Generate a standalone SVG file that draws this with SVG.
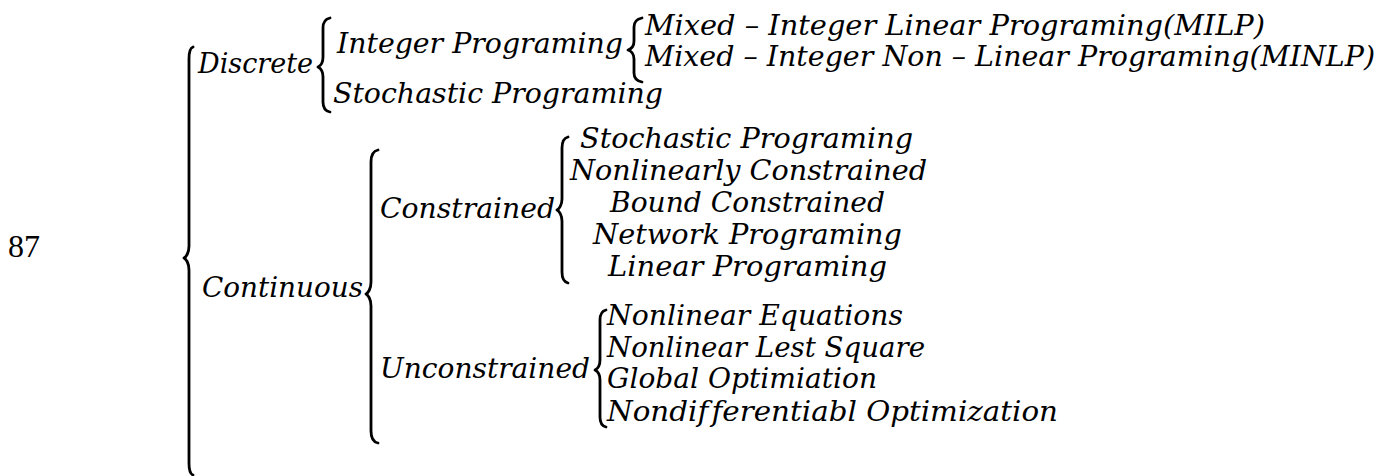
<svg xmlns="http://www.w3.org/2000/svg" width="1400" height="476" viewBox="0 0 1400 476">
<style>
.t{font-family:"DejaVu Serif","Liberation Serif",serif;font-style:italic;font-size:27px;fill:#000;font-variant-ligatures:none}
.n{font-family:"Liberation Serif","Times New Roman",serif;font-size:32px;fill:#000}
.b{fill:none;stroke:#000;stroke-width:2.8;stroke-linecap:round;stroke-linejoin:round}
</style>
<rect width="1400" height="476" fill="#fff"/>
<g id="connectors">
<path class="b" d="M193,47 C190,48 189,53 189,59 L189,246 C189,253 186,257 184,258 C186,259 189,263 189,270 L189,463 C189,469 190,474 193,475"/>
<path class="b" d="M330,18 C325,19 323,23 323,28 L323,57 C323,63 320,66 318,67 C320,68 323,71 323,77 L323,102 C323,107 325,111 330,112"/>
<path class="b" d="M642,18 C637,19 634,22 634,27 L634,41 C634,46 631,49 628,50 C631,51 634,54 634,59 L634,73 C634,78 637,81 642,82"/>
<path class="b" d="M378,150 C373,151 371,156 371,162 L371,282 C371,289 368,293 366,294 C368,295 371,299 371,306 L371,431 C371,437 373,442 378,443"/>
<path class="b" d="M568,137 C564,138 562,142 562,148 L562,199 C562,205 559,209 557,210 C559,211 562,215 562,221 L562,272 C562,278 564,282 568,283"/>
<path class="b" d="M606,310 C602,311 600,315 600,320 L600,360 C600,366 597,369 595,370 C597,371 600,374 600,380 L600,417 C600,422 602,426 606,427"/>
</g>
<g id="page-number"><text class="n" x="8" y="257">87</text></g>
<g id="discrete"><text class="t" x="198" y="73" textLength="115" lengthAdjust="spacingAndGlyphs">Discrete</text></g>
<g id="integer-programing"><text class="t" x="337" y="53" textLength="286" lengthAdjust="spacingAndGlyphs">Integer Programing</text></g>
<g id="stochastic-discrete"><text class="t" x="333" y="103" textLength="330" lengthAdjust="spacingAndGlyphs">Stochastic Programing</text></g>
<g id="milp"><text class="t" x="645" y="35" textLength="620" lengthAdjust="spacingAndGlyphs">Mixed – Integer Linear Programing(MILP)</text></g>
<g id="minlp"><text class="t" x="645" y="66" textLength="730" lengthAdjust="spacingAndGlyphs">Mixed – Integer Non – Linear Programing(MINLP)</text></g>
<g id="continuous"><text class="t" x="202" y="297" textLength="161" lengthAdjust="spacingAndGlyphs">Continuous</text></g>
<g id="constrained"><text class="t" x="380" y="218" textLength="175" lengthAdjust="spacingAndGlyphs">Constrained</text></g>
<g id="unconstrained"><text class="t" x="380" y="378" textLength="210" lengthAdjust="spacingAndGlyphs">Unconstrained</text></g>
<g id="stochastic-constrained"><text class="t" x="580" y="148" textLength="333" lengthAdjust="spacingAndGlyphs">Stochastic Programing</text></g>
<g id="nonlinearly-constrained"><text class="t" x="570" y="180" textLength="357" lengthAdjust="spacingAndGlyphs">Nonlinearly Constrained</text></g>
<g id="bound-constrained"><text class="t" x="610" y="212" textLength="275" lengthAdjust="spacingAndGlyphs">Bound Constrained</text></g>
<g id="network-programing"><text class="t" x="593" y="244" textLength="309" lengthAdjust="spacingAndGlyphs">Network Programing</text></g>
<g id="linear-programing"><text class="t" x="608" y="276" textLength="279" lengthAdjust="spacingAndGlyphs">Linear Programing</text></g>
<g id="nonlinear-equations"><text class="t" x="607" y="325" textLength="296" lengthAdjust="spacingAndGlyphs">Nonlinear Equations</text></g>
<g id="nonlinear-lest-square"><text class="t" x="607" y="357" textLength="318" lengthAdjust="spacingAndGlyphs">Nonlinear Lest Square</text></g>
<g id="global-optimiation"><text class="t" x="607" y="388" textLength="270" lengthAdjust="spacingAndGlyphs">Global Optimiation</text></g>
<g id="nondifferentiabl-optimization"><text class="t" x="607" y="421" textLength="451" lengthAdjust="spacingAndGlyphs">Nondif<tspan dx="3">ferentiabl Optimization</tspan></text></g>
</svg>
